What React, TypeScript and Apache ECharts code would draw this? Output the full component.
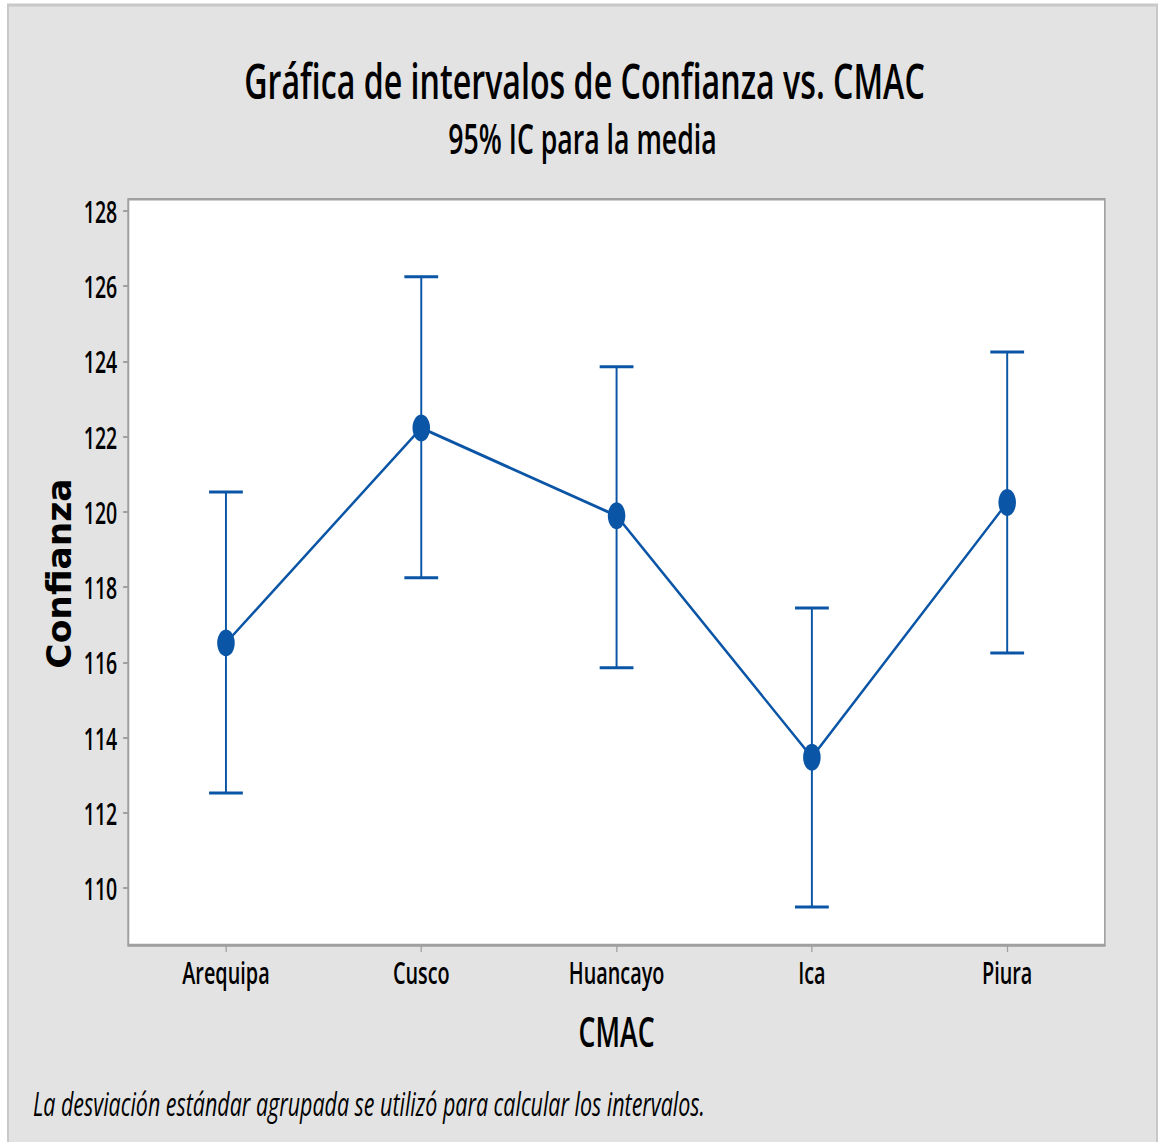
import React, { useEffect, useRef } from "react";
import * as echarts from "echarts";

const categories = ["Arequipa", "Cusco", "Huancayo", "Ica", "Piura"];
const means = [116.52, 122.23, 119.9, 113.48, 120.25];
const lower = [112.53, 118.25, 115.86, 109.5, 116.25];
const upper = [120.53, 126.25, 123.86, 117.45, 124.25];
const yTicks = [110, 112, 114, 116, 118, 120, 122, 124, 126, 128];

const titleText = "Gráfica de intervalos de Confianza vs. CMAC";
const subText = "95% IC para la media";
const yName = "Confianza";
const xName = "CMAC";
const footText = "La desviación estándar agrupada se utilizó para calcular los intervalos.";

const S = 0.65; // horizontal compression of the reference picture
const PW = 1163;
const PH = 1142;
const W = PW / S;
const BLUE = "#0a55a5";
const FONT = "'Open Sans', sans-serif";

export default function App() {
  const ref = useRef<HTMLDivElement>(null);
  useEffect(() => {
    if (!ref.current) return;
    const chart = echarts.init(ref.current, null, { renderer: "svg" });
    const errData = categories.map((_, i) => [i, lower[i], upper[i]]);
    chart.setOption({
      animation: false,
      backgroundColor: "#ffffff",
      textStyle: { fontFamily: FONT },
      graphic: [
        {
          type: "rect",
          z: -10,
          shape: { x: 8 / S, y: 5, width: (1157 - 8) / S, height: PH + 10 },
          style: { fill: "#e3e3e3", stroke: "#c8c8c8", lineWidth: 3 },
        },
        {
          type: "text",
          z: 10,
          x: W / 2 + 3 / S,
          y: 79,
          style: {
            text: titleText,
            fontFamily: FONT,
            fontSize: 49.5,
            fontWeight: 600,
            fill: "#000",
            align: "center",
            verticalAlign: "middle",
          },
        },
        {
          type: "text",
          z: 10,
          x: W / 2 + 1 / S,
          y: 138,
          style: {
            text: subText,
            fontFamily: FONT,
            fontSize: 41,
            fontWeight: 600,
            fill: "#000",
            align: "center",
            verticalAlign: "middle",
          },
        },
        {
          type: "text",
          z: 10,
          x: 59.5 / S,
          y: 573.5,
          rotation: Math.PI / 2,
          scaleY: 1 / S,
          style: {
            text: yName,
            fontFamily: "'DejaVu Sans', sans-serif",
            fontSize: 34.5,
            fontWeight: "bold",
            fill: "#000",
            align: "center",
            verticalAlign: "middle",
          },
        },
        {
          type: "text",
          z: 10,
          x: 33 / S,
          y: 1103,
          style: {
            text: footText,
            fontFamily: FONT,
            fontSize: 33,
            fontStyle: "italic",
            fill: "#000",
            align: "left",
            verticalAlign: "middle",
          },
        },
      ],
      grid: {
        left: 128.3 / S,
        right: (PW - 1105) / S,
        top: 199.3,
        bottom: PH - 945,
        show: true,
        backgroundColor: "#ffffff",
        borderColor: "#a0a0a0",
        borderWidth: 2.5,
      },
      xAxis: {
        type: "category",
        data: categories,
        boundaryGap: true,
        name: xName,
        nameLocation: "middle",
        nameGap: 65,
        nameTextStyle: { fontFamily: FONT, fontSize: 41, fontWeight: 600, color: "#000" },
        axisLine: { show: true, lineStyle: { color: "#a0a0a0", width: 2.5 } },
        axisTick: { show: true, alignWithLabel: true, length: 7, lineStyle: { color: "#a0a0a0", width: 2 } },
        axisLabel: { fontFamily: FONT, fontSize: 30.5, fontWeight: 600, color: "#000", margin: 12 },
        splitLine: { show: false },
      },
      yAxis: {
        type: "value",
        min: 108.49,
        max: 128.31,
        axisLine: { show: true, lineStyle: { color: "#a0a0a0", width: 2.5 } },
        axisTick: { show: true, length: 8, customValues: yTicks, lineStyle: { color: "#a0a0a0", width: 2 } },
        axisLabel: {
          fontFamily: FONT,
          fontSize: 30,
          fontWeight: 600,
          color: "#000",
          margin: 17,
          customValues: yTicks,
        },
        splitLine: { show: false },
      },
      series: [
        {
          type: "custom",
          z: 2,
          data: errData,
          encode: { x: 0, y: [1, 2] },
          renderItem: (params: any, api: any) => {
            const i = api.value(0);
            const lo = api.coord([i, api.value(1)]);
            const hi = api.coord([i, api.value(2)]);
            const hw = 26;
            const style = { stroke: BLUE, lineWidth: 3, fill: "none" };
            return {
              type: "group",
              children: [
                { type: "line", shape: { x1: lo[0], y1: lo[1], x2: hi[0], y2: hi[1] }, style },
                { type: "line", shape: { x1: hi[0] - hw, y1: hi[1], x2: hi[0] + hw, y2: hi[1] }, style },
                { type: "line", shape: { x1: lo[0] - hw, y1: lo[1], x2: lo[0] + hw, y2: lo[1] }, style },
              ],
            };
          },
        },
        {
          type: "line",
          z: 3,
          data: means,
          symbol: "circle",
          symbolSize: 27,
          lineStyle: { color: BLUE, width: 3 },
          itemStyle: { color: BLUE },
        },
      ],
    });
    return () => chart.dispose();
  }, []);

  return (
    <div
      style={{
        position: "absolute",
        left: 0,
        top: 0,
        width: PW,
        height: PH,
        overflow: "hidden",
        background: "#fff",
      }}
    >
      <div
        ref={ref}
        style={{
          width: W,
          height: PH,
          transform: `scaleX(${S})`,
          transformOrigin: "0 0",
        }}
      />
    </div>
  );
}
